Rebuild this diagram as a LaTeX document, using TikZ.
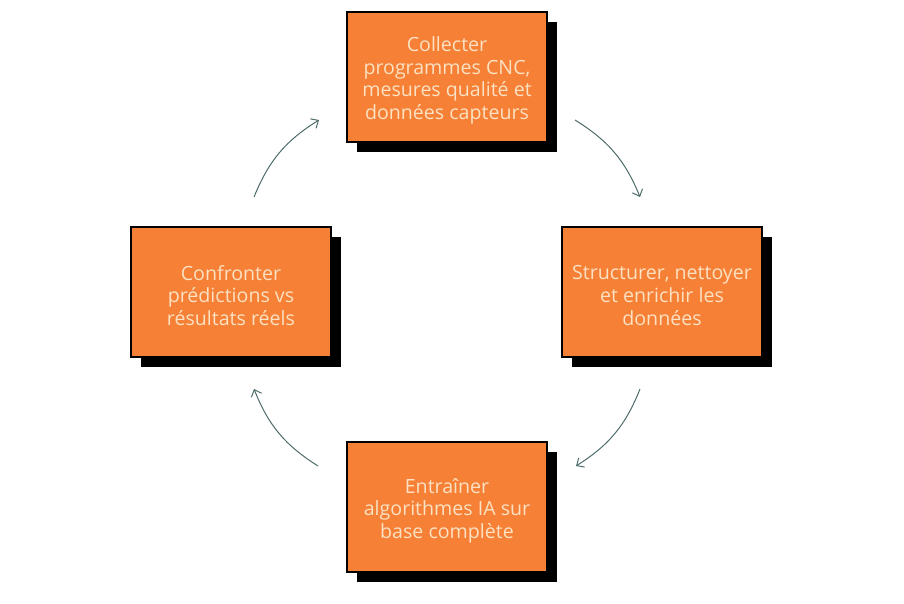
\documentclass[tikz,border=0pt]{standalone}
\usepackage{fontspec}
\setmainfont{Open Sans}
\usetikzlibrary{arrows.meta,shadows}
\definecolor{boxorange}{HTML}{F58036}
\definecolor{boxtext}{HTML}{FCE1C2}
\definecolor{arrowcol}{HTML}{4E6B6B}
\begin{document}
\begin{tikzpicture}[x=1pt,y=-1pt,
  stepbox/.style={draw=black, line width=1.2pt, fill=boxorange,
    minimum width=200pt, minimum height=130pt, inner sep=0pt,
    drop shadow={shadow xshift=10pt, shadow yshift=-10pt, fill=black, opacity=1}},
  steptext/.style={text=boxtext, align=center, inner sep=0pt, yshift=-3.5pt,
    font=\fontsize{19.6}{22.6}\selectfont},
  flow/.style={draw=arrowcol, line width=1pt, -{Straight Barb[length=6pt,width=11pt]}}]
\useasboundingbox (0,0) rectangle (904,603);
\node[stepbox] (top) at (447,77) {};
\node[stepbox] (right) at (662,292) {};
\node[stepbox] (bottom) at (447,507) {};
\node[stepbox] (left) at (231,292) {};
\node[steptext] (topt) at (top.center) {Collecter\\programmes CNC,\\mesures qualité et\\données capteurs};
\node[steptext] (rightt) at (right.center) {Structurer, nettoyer\\et enrichir les\\données};
\node[steptext] (bottomt) at (bottom.center) {Entraîner\\algorithmes IA sur\\base complète};
\node[steptext] (leftt) at (left.center) {Confronter\\prédictions vs\\résultats réels};
\coordinate (a1) at (575,120);
\coordinate (a2) at (640,197);
\coordinate (b1) at (640,389);
\coordinate (b2) at (576,466);
\coordinate (c1) at (318,466);
\coordinate (c2) at (254,389);
\coordinate (d1) at (254,197);
\coordinate (d2) at (319,120);
\draw[flow] (a1) to[bend left=18] (a2);
\draw[flow] (b1) to[bend left=18] (b2);
\draw[flow] (c1) to[bend left=18] (c2);
\draw[flow] (d1) to[bend left=18] (d2);
\end{tikzpicture}
\end{document}
